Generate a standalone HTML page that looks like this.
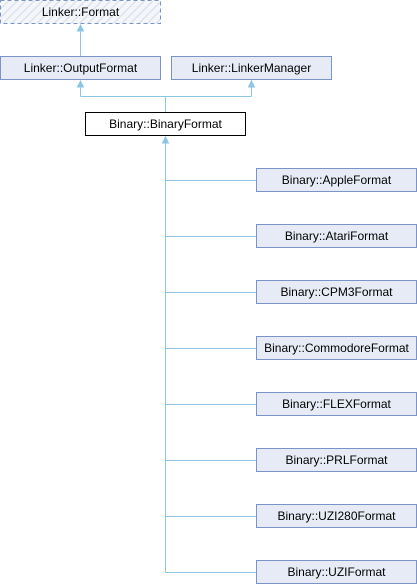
<!DOCTYPE html>
<html><head><meta charset="utf-8"><style>
html,body{margin:0;padding:0;background:#fff;}
svg{display:block;}
text{font-family:"Liberation Sans",sans-serif;font-size:12px;fill:#000;}
</style></head><body>
<svg width="417" height="584" viewBox="0 0 417 584" xmlns="http://www.w3.org/2000/svg">
<defs>
<pattern id="h" width="6" height="6" patternUnits="userSpaceOnUse" patternTransform="rotate(45)">
<rect width="6" height="6" fill="#f4f6fa"/><line x1="0" y1="0" x2="0" y2="6" stroke="#dde3ee" stroke-width="3"/>
</pattern>
</defs>
<g stroke="#8cc6e6" stroke-width="1" fill="none">
<line x1="80.5" y1="30" x2="80.5" y2="56"/>
<line x1="80.5" y1="86" x2="80.5" y2="96.5"/>
<line x1="251.5" y1="86" x2="251.5" y2="96.5"/>
<line x1="80.5" y1="96.5" x2="251.5" y2="96.5"/>
<line x1="165.5" y1="96.5" x2="165.5" y2="112"/>
<line x1="165.5" y1="142" x2="165.5" y2="572.5"/>
<line x1="165.5" y1="180.5" x2="256" y2="180.5"/>
<line x1="165.5" y1="236.5" x2="256" y2="236.5"/>
<line x1="165.5" y1="292.5" x2="256" y2="292.5"/>
<line x1="165.5" y1="348.5" x2="256" y2="348.5"/>
<line x1="165.5" y1="404.5" x2="256" y2="404.5"/>
<line x1="165.5" y1="460.5" x2="256" y2="460.5"/>
<line x1="165.5" y1="516.5" x2="256" y2="516.5"/>
<line x1="165.5" y1="572.5" x2="256" y2="572.5"/>
</g>
<g fill="#8cc6e6" stroke="#8cc6e6">
<polygon points="80.5,25 77.5,31 83.5,31"/>
<polygon points="80.5,81 77.5,87 83.5,87"/>
<polygon points="251.5,81 248.5,87 254.5,87"/>
<polygon points="165.5,137 162.5,143 168.5,143"/>
</g>
<rect x="0.5" y="0.5" width="160" height="23" fill="url(#h)" stroke="#7a93c8" stroke-dasharray="4,3"/>
<g fill="#e6ebf5" stroke="#7a93c8">
<rect x="0.5" y="56.5" width="160" height="23"/>
<rect x="171.5" y="56.5" width="160" height="23"/>
<rect x="256.5" y="168.5" width="160" height="23"/>
<rect x="256.5" y="224.5" width="160" height="23"/>
<rect x="256.5" y="280.5" width="160" height="23"/>
<rect x="256.5" y="336.5" width="160" height="23"/>
<rect x="256.5" y="392.5" width="160" height="23"/>
<rect x="256.5" y="448.5" width="160" height="23"/>
<rect x="256.5" y="504.5" width="160" height="23"/>
<rect x="256.5" y="560.5" width="160" height="23"/>
</g>
<rect x="85.5" y="112.5" width="160" height="23" fill="#fff" stroke="#000"/>
<g text-anchor="middle">
<text x="80.5" y="16">Linker::Format</text>
<text x="80.5" y="72">Linker::OutputFormat</text>
<text x="251.5" y="72">Linker::LinkerManager</text>
<text x="165.5" y="128">Binary::BinaryFormat</text>
<text x="336.5" y="184">Binary::AppleFormat</text>
<text x="336.5" y="240">Binary::AtariFormat</text>
<text x="336.5" y="296">Binary::CPM3Format</text>
<text x="336.5" y="352">Binary::CommodoreFormat</text>
<text x="336.5" y="408">Binary::FLEXFormat</text>
<text x="336.5" y="464">Binary::PRLFormat</text>
<text x="336.5" y="520">Binary::UZI280Format</text>
<text x="336.5" y="576">Binary::UZIFormat</text>
</g>
</svg>
</body></html>
